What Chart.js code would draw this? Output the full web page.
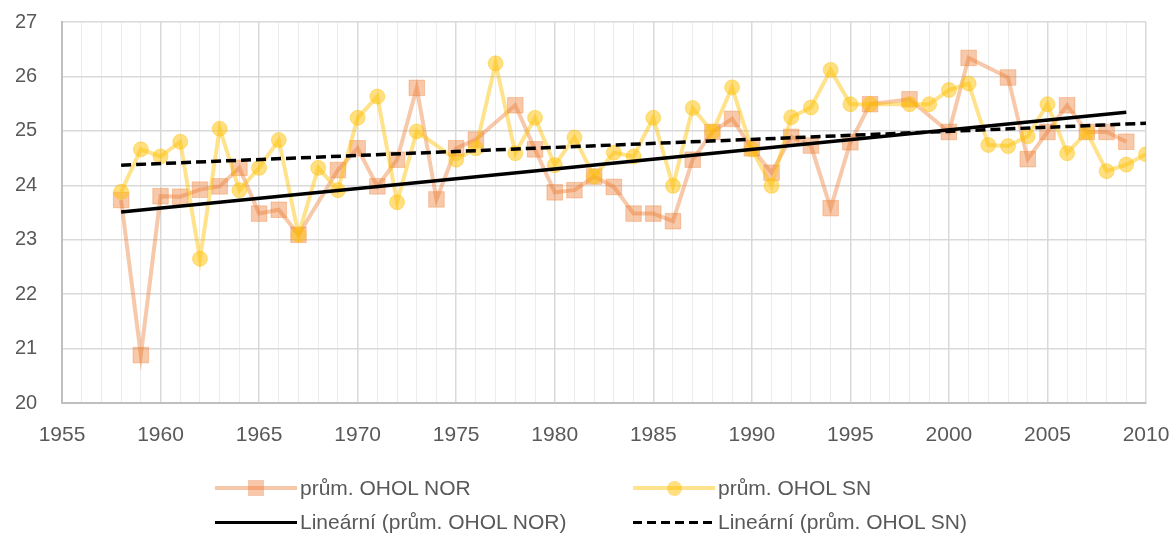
<!DOCTYPE html>
<html>
<head>
<meta charset="utf-8">
<script src="https://cdn.jsdelivr.net/npm/chart.js@4/dist/chart.umd.min.js"></script>
<style>
  body { margin: 0; background: #fff; }
  #wrap { position: relative; width: 1176px; height: 534px; }
  .lg { position: absolute; font-family: "Liberation Sans", Arial, sans-serif; font-size: 21px; color: #595959; white-space: nowrap; line-height: 24px; }
  .sym { position: absolute; }
</style>
</head>
<body>
<div id="wrap">
  <canvas id="chart" width="1176" height="534"></canvas>
</div>
<script>
// years on the x axis
const years = [];
for (let y = 1958; y <= 2010; y++) years.push(y);

// průměrné hodnoty, null = chybí
const norValues = [
  23.73, 20.88, 23.80, 23.79, 23.92, 23.98, 24.32, 23.48, 23.55, 23.09,
  null, 24.28, 24.68, 23.98, 24.47, 25.79, 23.74, 24.68, 24.84, null,
  25.47, 24.66, 23.87, 23.91, 24.16, 23.97, 23.48, 23.48, 23.34, 24.47,
  24.98, 25.22, 24.68, 24.23, 24.89, 24.73, 23.58, 24.79, 25.49, null,
  25.58, null, 24.98, 26.34, null, 25.98, 24.48, 24.98, 25.47, 24.98,
  24.98, 24.80, null
];
const snValues = [
  23.88, 24.66, 24.53, 24.80, 22.65, 25.04, 23.91, 24.32, 24.83, 23.09,
  24.32, 23.91, 25.24, 25.63, 23.69, 24.99, null, 24.47, 24.68, 26.24,
  24.59, 25.24, 24.37, 24.88, 24.16, 24.60, 24.53, 25.24, 23.99, 25.42,
  24.98, 25.80, 24.66, 23.99, 25.25, 25.43, 26.12, 25.49, 25.49, null,
  25.49, 25.49, 25.75, 25.87, 24.74, 24.72, 24.90, 25.49, 24.59, 24.98,
  24.26, 24.38, 24.57
];

// trend line end points
const norTrendYears = [1958, 2009];
const norTrendValues = [23.51, 25.34];
const snTrendYears = [1958, 2010];
const snTrendValues = [24.37, 25.14];

const xTicks = [1955, 1960, 1965, 1970, 1975, 1980, 1985, 1990, 1995, 2000, 2005, 2010];
const yTicks = [20, 21, 22, 23, 24, 25, 26, 27];

const labels = {
  nor: 'prům. OHOL NOR',
  sn: 'prům. OHOL SN',
  norTrend: 'Lineární (prům. OHOL NOR)',
  snTrend: 'Lineární (prům. OHOL SN)'
};

const NOR_LINE = 'rgba(237,125,49,0.42)';
const NOR_FILL = 'rgba(237,125,49,0.42)';
const SN_LINE = 'rgba(255,192,0,0.45)';
const SN_FILL = 'rgba(255,192,0,0.5)';

function toPoints(xs, ys) {
  return xs.map((x, i) => ({ x: x, y: ys[i] }));
}

const ctx = document.getElementById('chart').getContext('2d');
const chart = new Chart(ctx, {
  type: 'line',
  data: {
    datasets: [
      {
        label: labels.nor,
        data: toPoints(years, norValues),
        borderColor: NOR_LINE,
        borderWidth: 4,
        pointStyle: 'rect',
        pointRadius: 11,
        pointBackgroundColor: NOR_FILL,
        pointBorderColor: 'rgba(237,125,49,0.35)',
        pointBorderWidth: 1,
        spanGaps: true,
        tension: 0,
        order: 3
      },
      {
        label: labels.sn,
        data: toPoints(years, snValues),
        borderColor: SN_LINE,
        borderWidth: 4,
        pointStyle: 'circle',
        pointRadius: 7.5,
        pointBackgroundColor: SN_FILL,
        pointBorderColor: 'rgba(255,192,0,0.4)',
        pointBorderWidth: 1,
        spanGaps: true,
        tension: 0,
        order: 2
      },
      {
        label: labels.norTrend,
        data: toPoints(norTrendYears, norTrendValues),
        borderColor: '#000',
        borderWidth: 3.5,
        pointRadius: 0,
        order: 1
      },
      {
        label: labels.snTrend,
        data: toPoints(snTrendYears, snTrendValues),
        borderColor: '#000',
        borderWidth: 3.5,
        borderDash: [10, 5],
        pointRadius: 0,
        order: 0
      }
    ]
  },
  options: {
    responsive: false,
    animation: false,
    devicePixelRatio: 1,
    layout: { padding: { left: 15, right: 30, top: 22, bottom: 91 } },
    plugins: {
      legend: { display: false },
      tooltip: { enabled: false }
    },
    scales: {
      x: {
        type: 'linear',
        min: 1955,
        max: 2010,
        afterFit: (scale) => { scale.height = 40; },
        afterBuildTicks: (scale) => {
          const t = [];
          for (let v = 1955; v <= 2010; v++) t.push({ value: v });
          scale.ticks = t;
        },
        ticks: {
          autoSkip: false,
          maxRotation: 0,
          padding: 0,
          color: '#595959',
          font: { family: 'Liberation Sans', size: 21, lineHeight: '64px' },
          callback: (v) => xTicks.includes(v) ? String(v) : ''
        },
        grid: {
          drawTicks: false,
          color: (c) => (c.tick && c.tick.value % 5 === 0) ? '#d9d9d9' : '#ececec',
          lineWidth: (c) => (c.tick && c.tick.value % 5 === 0) ? 1.5 : 1
        },
        border: { color: '#bfbfbf', width: 2 }
      },
      y: {
        min: 20,
        max: 27,
        afterFit: (scale) => { scale.width = 47; },
        afterBuildTicks: (scale) => { scale.ticks = yTicks.map(v => ({ value: v })); },
        ticks: {
          padding: 0,
          crossAlign: 'far',
          color: '#595959',
          font: { family: 'Liberation Sans', size: 20 }
        },
        grid: { drawTicks: false, color: '#d9d9d9', lineWidth: 1.5 },
        border: { color: '#bfbfbf', width: 2 }
      }
    }
  }
});

// legend, two columns like the original
const wrap = document.getElementById('wrap');
function addLegend(x, y, text, kind) {
  const line = document.createElement('div');
  line.className = 'sym';
  line.style.left = x + 'px';
  line.style.width = '82px';
  if (kind === 'nor' || kind === 'sn') {
    line.style.top = (y - 2) + 'px';
    line.style.height = '4px';
    line.style.background = kind === 'nor' ? NOR_LINE : SN_LINE;
  } else {
    line.style.top = (y - 1.5) + 'px';
    line.style.height = '3px';
    line.style.background = kind === 'norTrend' ? '#000'
      : 'repeating-linear-gradient(to right, #000 0 9px, transparent 9px 14px)';
  }
  wrap.appendChild(line);
  if (kind === 'nor' || kind === 'sn') {
    const m = document.createElement('div');
    m.className = 'sym';
    const s = kind === 'nor' ? 16 : 15;
    m.style.width = s + 'px';
    m.style.height = s + 'px';
    m.style.left = (x + 41 - s / 2) + 'px';
    m.style.top = (y - s / 2) + 'px';
    m.style.background = kind === 'nor' ? NOR_FILL : SN_FILL;
    if (kind === 'sn') m.style.borderRadius = '50%';
    wrap.appendChild(m);
  }
  const t = document.createElement('div');
  t.className = 'lg';
  t.style.left = (x + 85) + 'px';
  t.style.top = (y - 12) + 'px';
  t.textContent = text;
  wrap.appendChild(t);
}
addLegend(215, 488, labels.nor, 'nor');
addLegend(633, 488, labels.sn, 'sn');
addLegend(215, 522, labels.norTrend, 'norTrend');
addLegend(633, 522, labels.snTrend, 'snTrend');
</script>
</body>
</html>
